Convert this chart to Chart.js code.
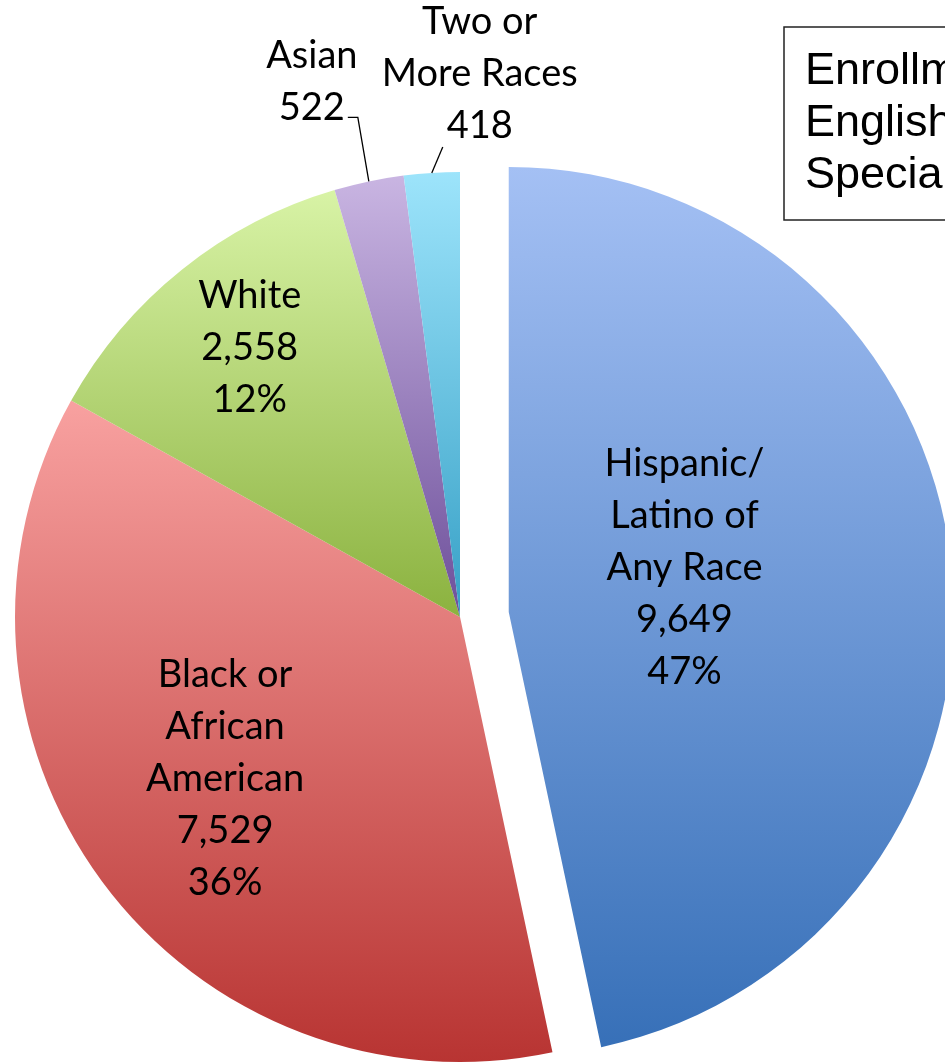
<!DOCTYPE html>
<html>
<head>
<meta charset="utf-8">
<title>Enrollment by race</title>
<script src="https://cdn.jsdelivr.net/npm/chart.js@4.4.0/dist/chart.umd.min.js"></script>
<style>
  html, body { margin: 0; padding: 0; background: #fff; }
  #wrap { width: 945px; height: 1064px; overflow: hidden; }
</style>
</head>
<body>
<div id="wrap"><canvas id="chart" width="945" height="1064"></canvas></div>
<script>
// Data
const categories = ['Hispanic/Latino of Any Race', 'Black or African American', 'White', 'Asian', 'Two or More Races'];
const labelLines = [['Hispanic/', 'Latino of', 'Any Race'], ['Black or', 'African', 'American'], ['White'], ['Asian'], ['Two or', 'More Races']];
const enrollment = [9649, 7529, 2558, 522, 418];
const showPercent = [true, true, true, false, false];
const titleLines = ['Enrollment', 'English', 'Special'];

// Styling
const topColors = ['#a4c0f4', '#f8a1a0', '#d8f3a6', '#c9b5e2', '#9de4fb'];
const bottomColors = ['#3770b8', '#b83432', '#8bb23f', '#6d4f9a', '#36a0c6'];
const PIE_RADIUS = 445;
const explode = [49, 0, 0, 0, 0];
const LABEL_FONT = '38px Lato';
const LINE_H = 52;

// inside labels: distance as fraction of radius, angle shift in degrees
const insideLabels = {
    0: { r: 0.407, shift: -8 },
    1: { r: 0.641, shift: 1.9 },
    2: { r: 0.767, shift: 0.6 }
};
// outside labels: offsets from the slice's edge point
const outsideLabels = {
    3: { leader: [[-11, -64], [-21, -64]], textX: -57, firstY: -126 },
    4: { leader: [[11, -26]], textX: 48, firstY: -151 }
};

const total = enrollment.reduce((a, b) => a + b, 0);

// vertical gradient spanning each slice's own bounding box
function sliceGradient(context) {
    const chart = context.chart;
    const i = context.dataIndex;
    const area = chart.chartArea;
    if (!area || i === undefined) return topColors[i] || '#ccc';
    const cx = (area.left + area.right) / 2;
    const cy = (area.top + area.bottom) / 2;
    const before = enrollment.slice(0, i).reduce((a, b) => a + b, 0);
    const a0 = -Math.PI / 2 + before / total * 2 * Math.PI;
    const a1 = a0 + enrollment[i] / total * 2 * Math.PI;
    const ys = [cy, cy + PIE_RADIUS * Math.sin(a0), cy + PIE_RADIUS * Math.sin(a1)];
    [Math.PI / 2, 3 * Math.PI / 2].forEach(k => {
        if (k > a0 && k < a1) ys.push(cy + PIE_RADIUS * Math.sin(k));
    });
    const g = chart.ctx.createLinearGradient(0, Math.min(...ys), 0, Math.max(...ys));
    g.addColorStop(0, topColors[i]);
    g.addColorStop(1, bottomColors[i]);
    return g;
}

// Pull a slice out from the centre without resizing it
const explodePlugin = {
    id: 'explode',
    beforeDatasetsDraw(chart) {
        chart.getDatasetMeta(0).data.forEach((arc, i) => {
            if (!explode[i] || arc._exploded) return;
            const draw = arc.draw.bind(arc);
            arc.draw = (ctx, area) => {
                const mid = (arc.startAngle + arc.endAngle) / 2;
                ctx.save();
                ctx.translate(Math.cos(mid) * explode[i], Math.sin(mid) * explode[i]);
                draw(ctx, area);
                ctx.restore();
            };
            arc._exploded = true;
        });
    }
};

// Data labels
const labelPlugin = {
    id: 'sliceLabels',
    afterDatasetsDraw(chart) {
        const ctx = chart.ctx;
        ctx.save();
        ctx.font = LABEL_FONT;
        ctx.fillStyle = '#000';
        ctx.textAlign = 'center';
        ctx.textBaseline = 'middle';
        chart.getDatasetMeta(0).data.forEach((arc, i) => {
            const lines = labelLines[i].concat([enrollment[i].toLocaleString('en-US')]);
            if (showPercent[i]) lines.push(Math.round(enrollment[i] / total * 100) + '%');
            const mid = (arc.startAngle + arc.endAngle) / 2;
            const ox = arc.x + Math.cos(mid) * explode[i];
            const oy = arc.y + Math.sin(mid) * explode[i];
            if (insideLabels[i]) {
                const p = insideLabels[i];
                const a = mid + p.shift * Math.PI / 180;
                const lx = ox + Math.cos(a) * arc.outerRadius * p.r;
                const ly = oy + Math.sin(a) * arc.outerRadius * p.r;
                const y0 = ly - (lines.length - 1) * LINE_H / 2;
                lines.forEach((t, k) => ctx.fillText(t, lx, y0 + k * LINE_H));
            } else if (outsideLabels[i]) {
                const p = outsideLabels[i];
                const ax = ox + Math.cos(mid) * arc.outerRadius;
                const ay = oy + Math.sin(mid) * arc.outerRadius;
                ctx.strokeStyle = '#000';
                ctx.lineWidth = 1.3;
                ctx.beginPath();
                ctx.moveTo(ax, ay);
                p.leader.forEach(([dx, dy]) => ctx.lineTo(ax + dx, ay + dy));
                ctx.stroke();
                lines.forEach((t, k) => ctx.fillText(t, ax + p.textX, ay + p.firstY + k * LINE_H));
            }
        });
        ctx.restore();
    }
};

// Boxed title, partly cut off at the right edge
const titleBoxPlugin = {
    id: 'titleBox',
    afterDraw(chart) {
        const ctx = chart.ctx;
        ctx.save();
        ctx.fillStyle = '#fff';
        ctx.strokeStyle = '#222';
        ctx.lineWidth = 1.5;
        ctx.fillRect(784, 27, 300, 193);
        ctx.strokeRect(784, 27, 300, 193);
        ctx.fillStyle = '#000';
        ctx.font = '45px "Liberation Sans", Arial, sans-serif';
        ctx.textAlign = 'left';
        ctx.textBaseline = 'alphabetic';
        titleLines.forEach((t, k) => ctx.fillText(t, 805, 84 + k * 52));
        ctx.restore();
    }
};

new Chart(document.getElementById('chart'), {
    type: 'pie',
    data: {
        labels: categories,
        datasets: [{
            data: enrollment,
            backgroundColor: sliceGradient,
            borderWidth: 0,
            clip: false
        }]
    },
    options: {
        responsive: false,
        animation: false,
        events: [],
        radius: PIE_RADIUS,
        layout: { padding: { left: 0, right: 25, top: 170, bottom: 0 } },
        plugins: {
            legend: { display: false },
            tooltip: { enabled: false },
            title: { display: false }
        }
    },
    plugins: [explodePlugin, labelPlugin, titleBoxPlugin]
});
</script>
</body>
</html>
